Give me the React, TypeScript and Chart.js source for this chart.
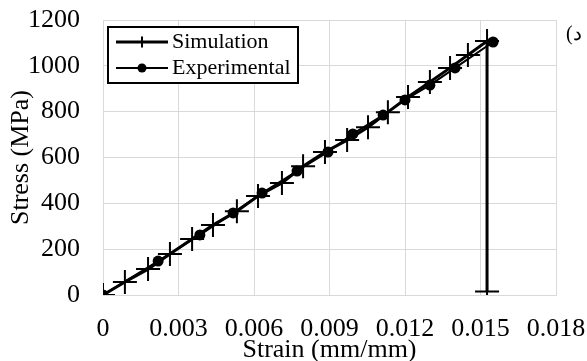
import React, { useEffect, useRef } from "react";
import { Chart, registerables } from "chart.js";

Chart.register(...registerables);

const simStrain = [0, 0.00087, 0.00179, 0.00266, 0.00354, 0.00437, 0.00532, 0.00616, 0.00711, 0.00795, 0.00882, 0.0097, 0.01053, 0.01132, 0.01212, 0.01299, 0.01379, 0.0145, 0.01526, 0.01526];
const simStress = [0, 57, 113, 179, 244, 305, 366, 432, 489, 562, 624, 676, 732, 798, 864, 929, 991, 1047, 1108, 15];

const expStrain = [0, 0.00219, 0.00385, 0.00517, 0.00632, 0.00771, 0.00894, 0.00993, 0.01113, 0.012, 0.01299, 0.01399, 0.0155];
const expStress = [0, 148, 262, 358, 445, 541, 624, 703, 785, 851, 916, 991, 1104];

const xTickLabels = ["0", "0.003", "0.006", "0.009", "0.012", "0.015", "0.018"];
const yTickLabels = ["0", "200", "400", "600", "800", "1000", "1200"];

const seriesNames = ["Simulation", "Experimental"];
const panelLabel = "(د";

const FONT = "'Liberation Serif', 'Times New Roman', 'DejaVu Serif', serif";

const legendPlugin = {
  id: "boxLegend",
  afterDraw(chart: any) {
    const ctx = chart.ctx;
    const a = chart.chartArea;
    const bx = a.left + 5;
    const by = a.top + 7;
    const bw = 190;
    const bh = 56;
    ctx.save();
    ctx.fillStyle = "#ffffff";
    ctx.fillRect(bx, by, bw, bh);
    ctx.strokeStyle = "#000000";
    ctx.lineWidth = 2;
    ctx.strokeRect(bx, by, bw, bh);

    const rows = [by + 15, by + 41];
    const lx0 = bx + 8;
    const lx1 = bx + 60;
    const mx = bx + 34;
    ctx.lineWidth = 3;
    ctx.beginPath();
    ctx.moveTo(lx0, rows[0]);
    ctx.lineTo(lx1, rows[0]);
    ctx.stroke();
    ctx.lineWidth = 2;
    ctx.beginPath();
    ctx.moveTo(mx, rows[0] - 5.5);
    ctx.lineTo(mx, rows[0] + 5.5);
    ctx.stroke();
    ctx.lineWidth = 2;
    ctx.beginPath();
    ctx.moveTo(lx0, rows[1]);
    ctx.lineTo(lx1, rows[1]);
    ctx.stroke();
    ctx.fillStyle = "#000000";
    ctx.beginPath();
    ctx.arc(mx, rows[1], 4.5, 0, Math.PI * 2);
    ctx.fill();

    ctx.font = `22px ${FONT}`;
    ctx.textBaseline = "middle";
    ctx.textAlign = "left";
    ctx.fillText(seriesNames[0], lx1 + 4, rows[0]);
    ctx.fillText(seriesNames[1], lx1 + 4, rows[1]);

    ctx.font = `20px ${FONT}`;
    ctx.direction = "ltr";
    ctx.fillText(panelLabel, a.right + 10, a.top + 15);
    ctx.restore();
  },
};

export default function App() {
  const ref = useRef<HTMLCanvasElement>(null);
  useEffect(() => {
    if (!ref.current) return;
    const chart = new Chart(ref.current, {
      type: "scatter",
      data: {
        datasets: [
          {
            label: seriesNames[0],
            data: simStrain.map((x, i) => ({ x, y: simStress[i] })),
            showLine: true,
            borderColor: "#000000",
            backgroundColor: "#000000",
            borderWidth: 3,
            pointStyle: "cross",
            pointRadius: 12,
            pointBorderWidth: 2,
            pointBorderColor: "#000000",
          },
          {
            label: seriesNames[1],
            data: expStrain.map((x, i) => ({ x, y: expStress[i] })),
            showLine: true,
            borderColor: "#000000",
            backgroundColor: "#000000",
            borderWidth: 2,
            pointStyle: "circle",
            pointRadius: 5.5,
            pointBorderWidth: 0,
          },
        ],
      },
      options: {
        animation: false,
        responsive: false,
        layout: { padding: { top: 20, right: 31, left: 0, bottom: 0 } },
        plugins: { legend: { display: false }, tooltip: { enabled: false } },
        scales: {
          x: {
            type: "linear",
            min: 0,
            max: 0.018,
            ticks: {
              stepSize: 0.003,
              padding: 19,
              color: "#000000",
              font: { family: FONT, size: 26 },
              maxRotation: 0,
              callback: (_v: any, i: number) => xTickLabels[i],
            },
            grid: { color: "#d9d9d9", lineWidth: 1, drawTicks: false },
            border: { color: "#d9d9d9" },
            title: {
              display: true,
              text: "Strain (mm/mm)",
              color: "#000000",
              font: { family: FONT, size: 26, lineHeight: 1 },
              padding: { top: 0, bottom: -2 },
            },
            afterFit: (s: any) => {
              s.height = 66;
              s.paddingLeft = 0;
              s.paddingRight = 0;
            },
          },
          y: {
            type: "linear",
            min: 0,
            max: 1200,
            ticks: {
              stepSize: 200,
              padding: 23,
              color: "#000000",
              font: { family: FONT, size: 26 },
              callback: (_v: any, i: number) => yTickLabels[i],
            },
            grid: { color: "#d9d9d9", lineWidth: 1, drawTicks: false },
            border: { color: "#d9d9d9" },
            title: {
              display: true,
              text: "Stress (MPa)",
              color: "#000000",
              font: { family: FONT, size: 26, lineHeight: 1 },
              padding: { top: 8, bottom: 0 },
            },
            afterFit: (s: any) => {
              s.width = 103;
              s.paddingTop = 0;
              s.paddingBottom = 0;
            },
          },
        },
      },
      plugins: [legendPlugin],
    });
    return () => chart.destroy();
  }, []);
  return (
    <div style={{ position: "fixed", left: 0, top: 0, width: 587, height: 361, background: "#fff" }}>
      <canvas ref={ref} width={587} height={361} />
    </div>
  );
}
